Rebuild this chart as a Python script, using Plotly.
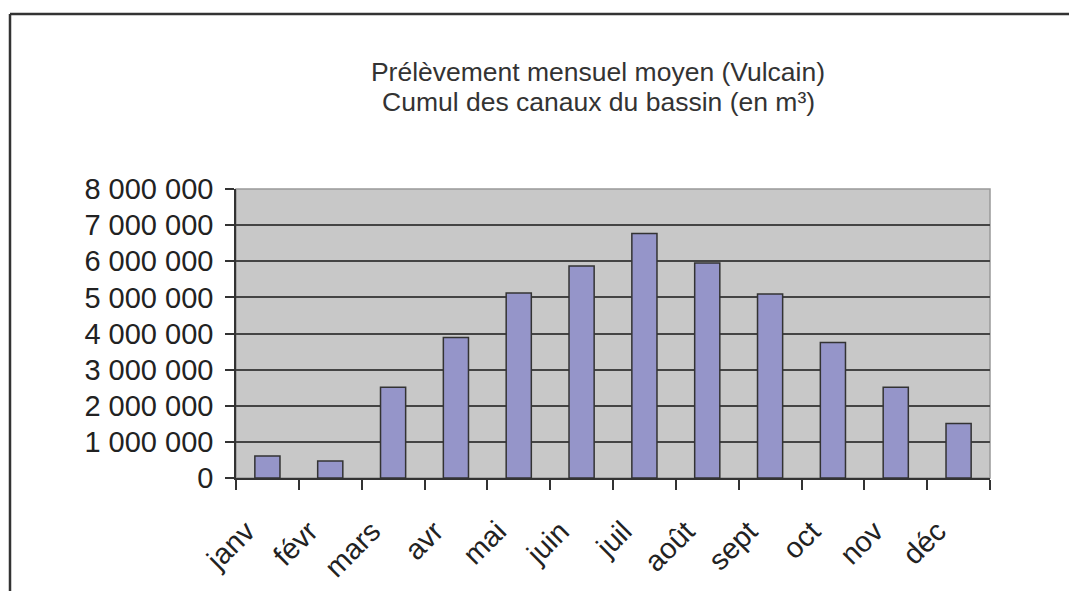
import plotly.graph_objects as go

months = ["janv", "févr", "mars", "avr", "mai", "juin", "juil", "août", "sept", "oct", "nov", "déc"]
volumes = [610000, 470000, 2510000, 3890000, 5120000, 5870000, 6770000, 5950000, 5090000, 3750000, 2510000, 1510000]
y_ticks = [0, 1000000, 2000000, 3000000, 4000000, 5000000, 6000000, 7000000, 8000000]
title_1 = "Prélèvement mensuel moyen (Vulcain)"
title_2 = "Cumul des canaux du bassin (en m³)"

W, H = 1077, 591
OFF = 8  # page body margin
px0, px1, py0, py1 = 236, 990, 189, 478  # plot area in page pixels
pw, ph = px1 - px0, py1 - py0
L, T = px0 - OFF, py0 - OFF
R, B = W - L - pw, H - T - ph

fig = go.Figure()
fig.add_trace(go.Bar(x=months, y=volumes,
                     marker=dict(color="#9595C9", line=dict(color="#333333", width=1.5))))

# outer chart frame (only left and top edges visible)
fx0 = (10 - px0) / pw
fy1 = (py1 - 14) / ph
fig.add_shape(type="line", xref="paper", yref="paper", x0=fx0, x1=(W + 20 - px0) / pw, y0=fy1, y1=fy1,
              line=dict(color="#333333", width=2.5))
fig.add_shape(type="line", xref="paper", yref="paper", x0=fx0, x1=fx0, y0=fy1, y1=-1,
              line=dict(color="#333333", width=2.5))
# plot area border
fig.add_shape(type="rect", xref="paper", yref="paper", x0=0, x1=1, y0=0, y1=1,
              line=dict(color="#999999", width=1.5), layer="below")

# second title line placed separately to match the tighter line spacing
fig.add_annotation(text=title_2, xref="paper", yref="paper", showarrow=False,
                   x=(598 - px0) / pw, y=(py1 - 102) / ph, xanchor="center", yanchor="middle",
                   font=dict(size=26.5, color="#333333"))

fig.update_layout(
    width=W, height=H,
    margin=dict(l=L, r=R, t=T, b=B),
    paper_bgcolor="white",
    plot_bgcolor="#C8C8C8",
    separators=", ",
    showlegend=False,
    bargap=0.6,
    font=dict(family="Liberation Sans, Arial, sans-serif", color="#222222"),
    title=dict(text=title_1,
               x=(598 - OFF) / W, xref="container", xanchor="center",
               y=1 - (72 - OFF) / H, yanchor="middle",
               font=dict(size=26.5, color="#333333")),
    xaxis=dict(tickangle=-45, tickson="boundaries", ticks="outside", ticklen=10,
               tickcolor="#333333", tickwidth=1.5, showline=True, linecolor="#333333", linewidth=1.5,
               showgrid=False, tickfont=dict(size=29), ticklabelshift=-21, ticklabelstandoff=23),
    yaxis=dict(range=[0, 8000000], tickvals=y_ticks, tickformat=",d", ticks="outside", ticklen=9,
               tickcolor="#333333", tickwidth=1.5, showline=True, linecolor="#333333", linewidth=1.5,
               showgrid=True, gridcolor="#444444", gridwidth=1.5, zeroline=False,
               tickfont=dict(size=29), ticklabelstandoff=6),
)

fig.write_html("out.html")
